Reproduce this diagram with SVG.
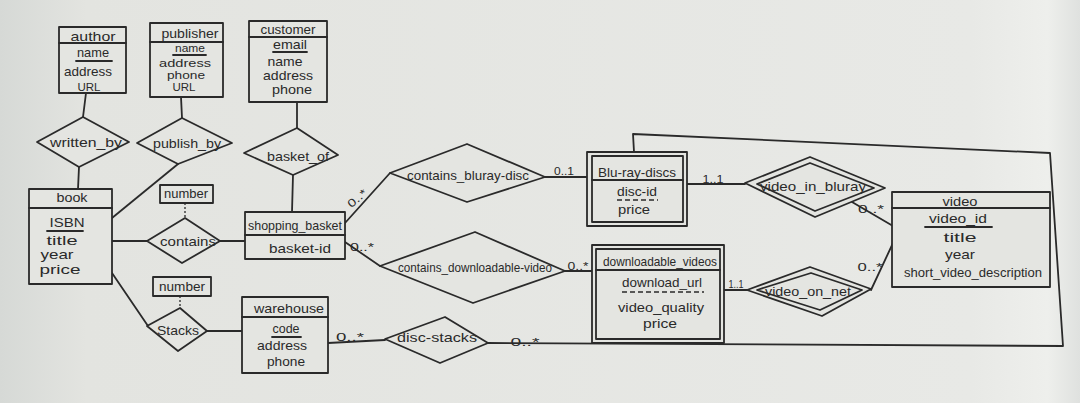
<svg xmlns="http://www.w3.org/2000/svg" width="1080" height="403" viewBox="0 0 1080 403">
<defs>
<linearGradient id="paper" x1="0" y1="0" x2="1" y2="0">
<stop offset="0" stop-color="#d6d9d6"/>
<stop offset="0.08" stop-color="#e3e4e0"/>
<stop offset="0.9" stop-color="#e8e9e6"/>
<stop offset="0.97" stop-color="#eeefec"/>
<stop offset="1" stop-color="#dfe1df"/>
</linearGradient>
<style>
.s{fill:none;stroke:#2a2a2a;stroke-width:1.8;stroke-linejoin:round;stroke-linecap:round}
.f{fill:#e4e5e1;stroke:#2a2a2a;stroke-width:1.8;stroke-linejoin:round}
.d{fill:none;stroke:#2a2a2a;stroke-width:1.5;stroke-dasharray:5 3}
.dq{fill:none;stroke:#2a2a2a;stroke-width:1.3;stroke-dasharray:2 2}
text{font-family:"Liberation Sans",Arial,sans-serif;font-size:13px;fill:#2a2a2a;text-anchor:middle}
.c{font-size:11px}
.sm{font-size:11px}
</style>
</defs>
<rect x="0" y="0" width="1080" height="403" fill="url(#paper)"/>

<g id="connectors">
<path class="s" d="M86 93 L83 117"/>
<path class="s" d="M79 167 L78 189"/>
<path class="s" d="M181 97 L182 118"/>
<path class="s" d="M178 164 L112 218"/>
<path class="s" d="M297 102 L297 128"/>
<path class="s" d="M293 175 L292 212"/>
<path class="dq" d="M185 203 L185 218"/>
<path class="s" d="M112 241 L147 241"/>
<path class="s" d="M220 241 L245 241"/>
<path class="dq" d="M180 296 L180 308"/>
<path class="s" d="M112 273 L148 326"/>
<path class="s" d="M207 331 L242 331"/>
<path class="s" d="M345 223 L390 173"/>
<path class="s" d="M545 177 L587 177"/>
<path class="s" d="M345 242 L380 266"/>
<path class="s" d="M565 271 L592 271"/>
<path class="s" d="M328 343 L385 340"/>
<path class="s" d="M488 343 L1063 346 L1050 153 L633 134 L634 152"/>
<path class="s" d="M687 184 L745 184"/>
<path class="s" d="M852 202 L893 226"/>
<path class="s" d="M724 290 L747 290"/>
<path class="s" d="M871 290 L893 243"/>
<text class="c" x="357" y="202" transform="rotate(-40 357 198)" textLength="22" lengthAdjust="spacingAndGlyphs">0..*</text>
<text class="c" x="564" y="175" textLength="20" lengthAdjust="spacingAndGlyphs">0..1</text>
<text class="c" x="362" y="251" textLength="24" lengthAdjust="spacingAndGlyphs">0..*</text>
<text class="c" x="578" y="270" textLength="21" lengthAdjust="spacingAndGlyphs">0..*</text>
<text class="c" x="350" y="341" textLength="28" lengthAdjust="spacingAndGlyphs">0..*</text>
<text class="c" x="525" y="346" textLength="29" lengthAdjust="spacingAndGlyphs">0..*</text>
<text class="c" x="713" y="183" textLength="21" lengthAdjust="spacingAndGlyphs">1..1</text>
<text class="c" x="871" y="213" textLength="26" lengthAdjust="spacingAndGlyphs">0..*</text>
<text class="c" x="736" y="288" textLength="15" lengthAdjust="spacingAndGlyphs">1..1</text>
<text class="c" x="870" y="271" textLength="25" lengthAdjust="spacingAndGlyphs">0..*</text>
</g>

<g id="author">
<rect class="f" x="59" y="27" width="67" height="66"/>
<path class="s" d="M59 43 L126 43"/>
<text x="93" y="41" textLength="45" lengthAdjust="spacingAndGlyphs">author</text>
<text x="93" y="57" textLength="32" lengthAdjust="spacingAndGlyphs">name</text>
<path class="s" d="M76 61 L112 61"/>
<text x="88" y="76" textLength="48" lengthAdjust="spacingAndGlyphs">address</text>
<text class="sm" x="89" y="91" textLength="23" lengthAdjust="spacingAndGlyphs">URL</text>
</g>

<g id="publisher">
<rect class="f" x="150" y="23" width="73" height="74"/>
<path class="s" d="M150 42 L223 42"/>
<text x="190" y="38" textLength="57" lengthAdjust="spacingAndGlyphs">publisher</text>
<text class="sm" x="190" y="52" textLength="30" lengthAdjust="spacingAndGlyphs">name</text>
<path class="s" d="M173 55 L206 55"/>
<text class="sm" x="185" y="67" textLength="52" lengthAdjust="spacingAndGlyphs">address</text>
<text class="sm" x="186" y="79" textLength="38" lengthAdjust="spacingAndGlyphs">phone</text>
<text class="sm" x="184" y="91" textLength="23" lengthAdjust="spacingAndGlyphs">URL</text>
</g>

<g id="customer">
<rect class="f" x="249" y="21" width="78" height="81"/>
<path class="s" d="M249 37 L327 37"/>
<text x="288" y="34" textLength="55" lengthAdjust="spacingAndGlyphs">customer</text>
<text x="290" y="49" textLength="34" lengthAdjust="spacingAndGlyphs">email</text>
<path class="s" d="M273 52 L307 52"/>
<text x="285" y="66" textLength="35" lengthAdjust="spacingAndGlyphs">name</text>
<text x="288" y="80" textLength="50" lengthAdjust="spacingAndGlyphs">address</text>
<text x="292" y="94" textLength="40" lengthAdjust="spacingAndGlyphs">phone</text>
</g>

<g id="written_by">
<polygon class="f" points="83,117 129,142 79,167 37,142"/>
<text x="86" y="147" textLength="72" lengthAdjust="spacingAndGlyphs">written_by</text>
</g>

<g id="publish_by">
<polygon class="f" points="182,118 232,143 178,164 137,143"/>
<text x="187" y="148" textLength="68" lengthAdjust="spacingAndGlyphs">publish_by</text>
</g>

<g id="basket_of">
<polygon class="f" points="297,128 338,155 293,175 244,153"/>
<text x="298" y="161" textLength="62" lengthAdjust="spacingAndGlyphs">basket_of</text>
</g>

<g id="book">
<rect class="f" x="29" y="189" width="83" height="95"/>
<path class="s" d="M29 208 L112 208"/>
<text x="72" y="202" textLength="31" lengthAdjust="spacingAndGlyphs">book</text>
<text x="67" y="227" textLength="35" lengthAdjust="spacingAndGlyphs">ISBN</text>
<path class="s" d="M47 231 L83 231"/>
<text x="62" y="245" textLength="31" lengthAdjust="spacingAndGlyphs">title</text>
<text x="57" y="259" textLength="33" lengthAdjust="spacingAndGlyphs">year</text>
<text x="60" y="274" textLength="41" lengthAdjust="spacingAndGlyphs">price</text>
</g>

<g id="number_contains">
<rect class="f" x="160" y="185" width="53" height="18"/>
<text x="186" y="198" textLength="44" lengthAdjust="spacingAndGlyphs">number</text>
</g>

<g id="contains">
<polygon class="f" points="185,218 220,241 182,263 147,241"/>
<text x="188" y="246" textLength="56" lengthAdjust="spacingAndGlyphs">contains</text>
</g>

<g id="number_stacks">
<rect class="f" x="153" y="277" width="58" height="19"/>
<text x="182" y="291" textLength="46" lengthAdjust="spacingAndGlyphs">number</text>
</g>

<g id="stacks">
<polygon class="f" points="180,308 207,331 178,351 147,326"/>
<text x="178" y="335" textLength="42" lengthAdjust="spacingAndGlyphs">Stacks</text>
</g>

<g id="shopping_basket">
<rect class="f" x="245" y="212" width="100" height="47"/>
<path class="s" d="M245 235 L345 235"/>
<text x="295" y="230" textLength="94" lengthAdjust="spacingAndGlyphs">shopping_basket</text>
<text x="300" y="253" textLength="62" lengthAdjust="spacingAndGlyphs">basket-id</text>
</g>

<g id="warehouse">
<rect class="f" x="242" y="297" width="86" height="76"/>
<path class="s" d="M242 317 L328 317"/>
<text x="289" y="313" textLength="70" lengthAdjust="spacingAndGlyphs">warehouse</text>
<text x="286" y="333" textLength="27" lengthAdjust="spacingAndGlyphs">code</text>
<path class="s" d="M272 337 L301 337"/>
<text x="282" y="350" textLength="50" lengthAdjust="spacingAndGlyphs">address</text>
<text x="286" y="366" textLength="38" lengthAdjust="spacingAndGlyphs">phone</text>
</g>

<g id="contains_bluray_disc">
<polygon class="f" points="467,144 545,177 467,202 390,173"/>
<text x="468" y="180" textLength="122" lengthAdjust="spacingAndGlyphs">contains_bluray-disc</text>
</g>

<g id="contains_downloadable_video">
<polygon class="f" points="475,232 565,271 473,303 380,266"/>
<text x="475" y="272" textLength="154" lengthAdjust="spacingAndGlyphs">contains_downloadable-video</text>
</g>

<g id="disc_stacks">
<polygon class="f" points="445,317 488,343 440,363 385,339"/>
<text x="437" y="342" textLength="80" lengthAdjust="spacingAndGlyphs">disc-stacks</text>
</g>

<g id="blu_ray_discs">
<rect class="f" x="587" y="152" width="100" height="74"/>
<rect class="s" x="592" y="156" width="91" height="66"/>
<path class="s" d="M592 180 L683 180"/>
<text x="637" y="177" textLength="78" lengthAdjust="spacingAndGlyphs">Blu-ray-discs</text>
<text x="637" y="196" textLength="40" lengthAdjust="spacingAndGlyphs">disc-id</text>
<path class="d" d="M617 200 L658 200"/>
<text x="634" y="214" textLength="32" lengthAdjust="spacingAndGlyphs">price</text>
</g>

<g id="downloadable_videos">
<rect class="f" x="592" y="245" width="132" height="98"/>
<rect class="s" x="596" y="249" width="124" height="90"/>
<path class="s" d="M596 270 L720 270"/>
<text x="660" y="266" textLength="114" lengthAdjust="spacingAndGlyphs">downloadable_videos</text>
<text x="662" y="287" textLength="80" lengthAdjust="spacingAndGlyphs">download_url</text>
<path class="d" d="M622 292 L704 292"/>
<text x="661" y="312" textLength="86" lengthAdjust="spacingAndGlyphs">video_quality</text>
<text x="660" y="328" textLength="34" lengthAdjust="spacingAndGlyphs">price</text>
</g>

<g id="video_in_bluray">
<polygon class="f" points="810,157 885,188 815,217 745,183"/>
<polygon class="s" points="810,163 874,188 815,211 757,184"/>
<text x="813" y="191" textLength="106" lengthAdjust="spacingAndGlyphs">video_in_bluray</text>
</g>

<g id="video_on_net">
<polygon class="f" points="810,267 871,289 822,316 747,290"/>
<polygon class="s" points="811,273 862,290 820,310 757,290"/>
<text x="808" y="296" textLength="86" lengthAdjust="spacingAndGlyphs">video_on_net</text>
</g>

<g id="video">
<rect class="f" x="892" y="192" width="158" height="95"/>
<path class="s" d="M892 208 L1050 208"/>
<text x="960" y="206" textLength="35" lengthAdjust="spacingAndGlyphs">video</text>
<text x="958" y="223" textLength="58" lengthAdjust="spacingAndGlyphs">video_id</text>
<path class="s" d="M925 227 L992 227"/>
<text x="960" y="242" textLength="33" lengthAdjust="spacingAndGlyphs">title</text>
<text x="960" y="259" textLength="30" lengthAdjust="spacingAndGlyphs">year</text>
<text x="973" y="277" textLength="138" lengthAdjust="spacingAndGlyphs">short_video_description</text>
</g>
</svg>
